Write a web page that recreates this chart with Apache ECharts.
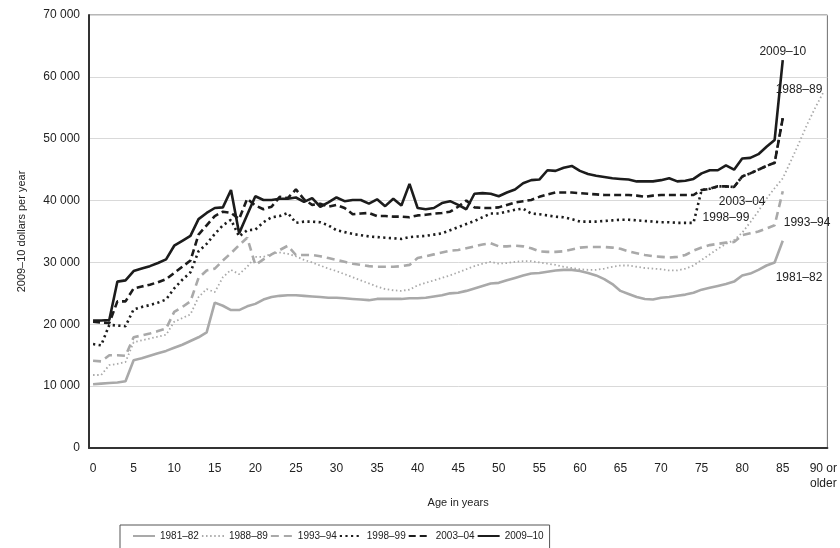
<!DOCTYPE html>
<html>
<head>
<meta charset="utf-8">
<script src="https://cdn.jsdelivr.net/npm/echarts@6/dist/echarts.min.js"></script>
<style>html,body{margin:0;padding:0;background:#fff;}#chart{width:840px;height:548px;}</style>
</head>
<body>
<div id="chart"></div>
<script>
var ages = [];
for (var i = 0; i <= 90; i++) ages.push(i === 90 ? '90 or\nolder' : String(i));

var s1981 = [10300,10400,10500,10600,10800,14200,14500,14900,15300,15700,16200,16700,17300,17900,18700,23500,23000,22300,22300,22900,23300,24000,24400,24600,24700,24700,24600,24500,24400,24300,24300,24200,24100,24000,23900,24100,24100,24100,24100,24200,24200,24300,24500,24700,25000,25100,25400,25800,26200,26600,26700,27100,27500,27900,28200,28300,28500,28700,28800,28800,28600,28300,27900,27300,26500,25400,24900,24400,24100,24000,24300,24400,24600,24800,25100,25600,25900,26200,26500,26900,27900,28200,28800,29500,30000,33500];
var s1988 = [11800,11800,13400,13600,13900,17100,17400,17700,18000,18300,20400,21000,21600,24400,25700,25200,27600,28800,28100,29300,30900,30900,31400,31600,31400,31000,30400,30000,29500,29000,28600,28100,27600,27100,26600,26100,25700,25500,25400,25600,26300,26700,27100,27500,27900,28400,28900,29400,29800,30100,29800,29900,30100,30200,30200,30000,29800,29600,29300,29100,28900,28800,28800,29000,29300,29500,29500,29300,29100,29000,28900,28700,28700,29000,29500,30400,31300,32200,33000,33600,34800,36500,38300,40300,42000,43600,46400,49300,52300,55000,57500];
var s1993 = [14100,14000,15000,15000,14900,17900,18200,18500,18900,19300,22000,22800,23700,27500,28700,29000,30300,31500,32800,34000,29600,30500,31300,32000,32700,31200,31200,31200,31000,30700,30400,30100,29800,29600,29400,29300,29300,29300,29400,29600,30700,31000,31300,31600,31900,32000,32300,32600,32900,33100,32600,32600,32700,32600,32300,31800,31700,31700,31800,32100,32400,32500,32500,32500,32400,32200,31800,31500,31200,31000,30900,30800,30900,31200,31900,32400,32800,33000,33200,33300,34400,34700,35000,35500,36000,41500];
var s2003 = [20400,20300,20200,23700,23700,25800,26100,26400,26800,27300,28300,29300,30300,34500,36000,37500,38200,38000,37000,40300,39200,38600,39000,40600,40400,41800,40200,39300,39500,39000,39300,38800,37800,37900,38000,37500,37500,37400,37400,37300,37600,37700,37900,38000,38200,39000,40000,38900,38800,38800,38900,39300,39700,39900,40100,40600,41000,41300,41300,41300,41200,41100,41000,40900,40900,40900,40900,40800,40600,40800,40900,40900,40900,40900,40900,41700,41900,42300,42300,42200,43900,44400,45000,45600,46100,53300];
var s1998 = [16800,16600,19900,19800,19700,22400,22800,23100,23500,24000,25800,27200,28400,31800,33000,34600,36000,36900,34200,35200,35300,36500,37300,37500,38000,36400,36600,36600,36500,36000,35200,34900,34600,34400,34200,34100,34000,33900,33800,34100,34200,34300,34500,34700,35200,35700,36200,36700,37300,37900,37900,38200,38500,38700,37900,37800,37600,37400,37300,37000,36600,36600,36600,36700,36800,36900,36900,36800,36700,36600,36500,36500,36400,36400,36400,41700,41900,42300,42300,42200,43900,44400,45000,45600,46100,53300];
var s2009 = [20600,20600,20700,26900,27100,28600,29000,29400,29900,30500,32700,33500,34300,37000,38000,38800,38900,41700,34700,37700,40700,40100,40100,40300,40300,40500,39800,40400,39000,39700,40500,39900,40100,40100,39500,40200,39100,40300,39200,42700,38800,38600,38800,39600,39900,39300,38600,41100,41200,41100,40700,41300,41800,42800,43300,43400,44900,44800,45300,45600,44800,44300,44000,43800,43600,43500,43400,43100,43100,43100,43300,43600,43100,43200,43500,44400,44900,44900,45700,45000,46800,46900,47500,48700,49800,62700];

var seriesNames = ['1981–82','1988–89','1993–94','1998–99','2003–04','2009–10'];
// end-label anchors: [age index, value]
var labelAnchors = [[87, 27600],[87, 57900],[88, 36500],[78, 37200],[80, 39800],[85, 64000]];

var FONT = 'Liberation Sans';
var lightGray = '#a9a9a9';
var dark = '#1c1c1c';
var styles = [
  {color: lightGray, width: 2.6, type: 'solid'},
  {color: lightGray, width: 1.8, type: [1.5, 2.6]},
  {color: lightGray, width: 2.6, type: [8, 5]},
  {color: dark, width: 2.6, type: [2.2, 3.4]},
  {color: dark, width: 2.6, type: [7, 4]},
  {color: dark, width: 2.6, type: 'solid'}
];
var datasets = [s1981, s1988, s1993, s1998, s2003, s2009];

function fmt(v){ return String(v).replace(/\B(?=(\d{3})+(?!\d))/g, ' '); }

var series = datasets.map(function(d, k){
  var st = styles[k];
  return {
    name: seriesNames[k],
    type: 'line',
    data: d,
    symbol: 'none',
    smooth: false,
    z: 2 + k,
    lineStyle: {color: st.color, width: st.width, type: st.type, cap: 'butt'},
    itemStyle: {color: st.color},
    emphasis: {disabled: true},
    markPoint: {
      symbol: 'circle', symbolSize: 0, silent: true,
      data: [{coord: [labelAnchors[k][0], labelAnchors[k][1]], value: seriesNames[k]}],
      label: {show: true, position: 'inside', formatter: seriesNames[k], color: '#222', fontFamily: FONT, fontSize: 12}
    }
  };
});

var chart = echarts.init(document.getElementById('chart'), null, {renderer: 'canvas'});
chart.setOption({
  animation: false,
  backgroundColor: '#fff',
  grid: {left: 89, right: 12, top: 15, bottom: 100, show: true, borderColor: '#6e6e6e', borderWidth: 1, containLabel: false},
  xAxis: {
    type: 'category',
    data: ages,
    boundaryGap: true,
    name: 'Age in years',
    nameLocation: 'middle',
    nameGap: 49,
    nameTextStyle: {fontFamily: FONT, fontSize: 11, color: '#222'},
    axisLine: {show: true, lineStyle: {color: '#333', width: 2}},
    axisTick: {show: false},
    axisLabel: {interval: function(i){ return i % 5 === 0; }, margin: 13, fontFamily: FONT, fontSize: 12, color: '#222', lineHeight: 15},
    splitLine: {show: false}
  },
  yAxis: {
    type: 'value',
    min: 0, max: 70000, interval: 10000,
    name: '2009–10 dollars per year',
    nameLocation: 'middle',
    nameGap: 62,
    nameTextStyle: {fontFamily: FONT, fontSize: 11, color: '#222'},
    axisLine: {show: true, lineStyle: {color: '#333', width: 2}},
    axisTick: {show: false},
    axisLabel: {formatter: fmt, margin: 9, fontFamily: FONT, fontSize: 12, color: '#222'},
    splitLine: {show: true, lineStyle: {color: '#d9d9d9', width: 1}}
  },
  legend: {
    data: seriesNames,
    left: 120, top: 525,
    orient: 'horizontal',
    itemWidth: 22, itemHeight: 12, itemGap: 2,
    padding: [6, 6, 8, 12],
    borderColor: '#555', borderWidth: 1,
    itemStyle: {opacity: 0},
    textStyle: {fontFamily: FONT, fontSize: 10, color: '#222'},
    selectedMode: false
  },
  series: series
});
</script>
</body>
</html>
